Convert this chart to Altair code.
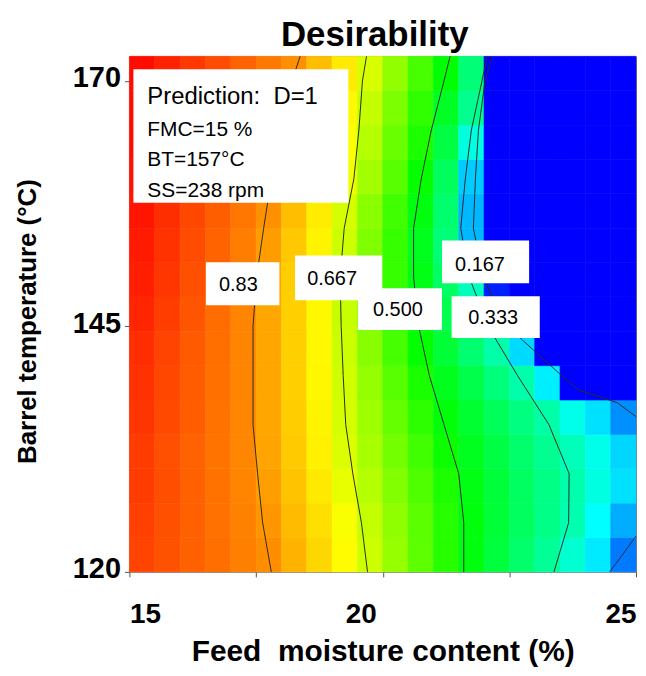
import altair as alt
import pandas as pd

FONT = "Liberation Sans, Arial, sans-serif"

# ---- heat-map grid (feed moisture %, barrel temperature °C) ----
MOISTURE_EDGES = [15.0, 15.5, 16.0, 16.5, 17.0, 17.5, 18.0, 18.5, 19.0, 19.5, 20.0,
                  20.5, 21.0, 21.5, 22.0, 22.5, 23.0, 23.5, 24.0, 24.5, 25.0]
TEMP_EDGES = [120.0, 123.5, 127.0, 130.5, 134.0, 137.5, 141.0, 144.5, 148.0,
              151.5, 155.0, 158.5, 162.0, 165.5, 169.0, 172.5]

# desirability per cell, rows from bottom (120 °C) to top (172.5 °C)
D_ROWS = [
    [0.921, 0.904, 0.886, 0.869, 0.851, 0.834, 0.791, 0.747, 0.704, 0.660, 0.618, 0.574, 0.530, 0.486, 0.441, 0.396, 0.352, 0.295, 0.230, 0.120],
    [0.925, 0.906, 0.886, 0.867, 0.848, 0.823, 0.780, 0.738, 0.695, 0.653, 0.612, 0.571, 0.529, 0.488, 0.447, 0.407, 0.369, 0.328, 0.250, 0.170],
    [0.929, 0.908, 0.887, 0.866, 0.845, 0.814, 0.770, 0.726, 0.682, 0.641, 0.602, 0.562, 0.522, 0.482, 0.444, 0.406, 0.370, 0.332, 0.280, 0.220],
    [0.929, 0.907, 0.885, 0.864, 0.842, 0.807, 0.762, 0.717, 0.672, 0.631, 0.591, 0.550, 0.509, 0.471, 0.433, 0.395, 0.358, 0.320, 0.270, 0.210],
    [0.938, 0.914, 0.890, 0.866, 0.842, 0.805, 0.759, 0.713, 0.667, 0.623, 0.580, 0.536, 0.492, 0.453, 0.413, 0.374, 0.336, 0.270, 0.220, 0.140],
    [0.942, 0.917, 0.892, 0.868, 0.843, 0.804, 0.757, 0.710, 0.663, 0.615, 0.569, 0.520, 0.473, 0.426, 0.380, 0.333, 0.234, 0.0, 0.0, 0.0],
    [0.947, 0.921, 0.894, 0.869, 0.843, 0.803, 0.756, 0.708, 0.659, 0.606, 0.555, 0.502, 0.446, 0.391, 0.335, 0.214, 0.0, 0.0, 0.0, 0.0],
    [0.956, 0.928, 0.900, 0.873, 0.845, 0.805, 0.756, 0.707, 0.656, 0.600, 0.546, 0.488, 0.423, 0.358, 0.212, 0.0, 0.0, 0.0, 0.0, 0.0],
    [0.965, 0.936, 0.906, 0.877, 0.848, 0.808, 0.758, 0.708, 0.656, 0.598, 0.542, 0.479, 0.403, 0.316, 0.030, 0.0, 0.0, 0.0, 0.0, 0.0],
    [0.970, 0.941, 0.911, 0.883, 0.853, 0.817, 0.765, 0.713, 0.660, 0.600, 0.542, 0.473, 0.384, 0.180, 0.0, 0.0, 0.0, 0.0, 0.0, 0.0],
    [0.975, 0.946, 0.917, 0.889, 0.860, 0.829, 0.775, 0.721, 0.667, 0.608, 0.550, 0.486, 0.393, 0.180, 0.0, 0.0, 0.0, 0.0, 0.0, 0.0],
    [0.981, 0.952, 0.923, 0.895, 0.866, 0.837, 0.790, 0.738, 0.687, 0.628, 0.568, 0.505, 0.409, 0.200, 0.0, 0.0, 0.0, 0.0, 0.0, 0.0],
    [0.986, 0.957, 0.929, 0.902, 0.873, 0.845, 0.803, 0.750, 0.697, 0.641, 0.582, 0.521, 0.434, 0.280, 0.0, 0.0, 0.0, 0.0, 0.0, 0.0],
    [0.986, 0.959, 0.932, 0.905, 0.878, 0.851, 0.815, 0.761, 0.708, 0.653, 0.597, 0.538, 0.464, 0.361, 0.0, 0.0, 0.0, 0.0, 0.0, 0.0],
    [0.987, 0.961, 0.935, 0.911, 0.885, 0.859, 0.833, 0.778, 0.724, 0.669, 0.614, 0.556, 0.498, 0.384, 0.0, 0.0, 0.0, 0.0, 0.0, 0.0],
]

# ---- contour lines (moisture at given temperatures) ----
CONTOUR_T = [172.5, 170, 165, 160, 155, 150, 145, 140, 135, 130, 125, 120]
CONTOUR_083_M = [18.37, 18.21, 18.00, 17.80, 17.65, 17.51, 17.44, 17.44, 17.44, 17.53, 17.63, 17.80]
CONTOUR_067_M = [19.68, 19.60, 19.53, 19.43, 19.24, 19.16, 19.18, 19.22, 19.27, 19.41, 19.58, 19.70]
CONTOUR_050_M = [21.33, 21.21, 20.96, 20.76, 20.61, 20.61, 20.71, 20.92, 21.21, 21.50, 21.60, 21.60]
CONTOUR_033_M = [22.06, 21.96, 21.75, 21.63, 21.54, 21.71, 22.08, 22.66, 23.28, 23.68, 23.67, 23.38]
CONTOUR_017A_T = [172.5, 170, 165, 160, 155, 150, 145, 143.6, 140, 138.55, 137.23, 135.81]
CONTOUR_017A_M = [22.16, 22.02, 21.89, 21.83, 21.79, 21.98, 22.47, 22.76, 23.53, 23.86, 24.63, 25.00]
CONTOUR_017B_T = [123.65, 121.72, 120.0]
CONTOUR_017B_M = [25.00, 24.73, 24.48]

# ---- contour labels ----
LABEL_TEXT = ["0.83", "0.667", "0.500", "0.167", "0.333"]
LABEL_M = [17.15, 19.00, 20.30, 21.92, 22.18]
LABEL_T = [149.19, 149.80, 146.65, 151.22, 145.84]
BOX_M0 = [16.51, 18.27, 19.51, 21.17, 21.36]
BOX_M1 = [17.96, 19.99, 21.17, 22.89, 23.10]
BOX_T0 = [147.16, 147.67, 144.63, 149.39, 143.82]
BOX_T1 = [151.52, 152.23, 148.88, 153.75, 148.07]

PRED_LINES = ["Prediction:\u00a0 D=1", "FMC=15 %", "BT=157°C", "SS=238 rpm"]

# ---- build tables ----
cells = []
for i in range(len(TEMP_EDGES) - 1):
    for j in range(len(MOISTURE_EDGES) - 1):
        cells.append({"m": MOISTURE_EDGES[j], "m_hi": MOISTURE_EDGES[j + 1],
                      "t": TEMP_EDGES[i], "t_hi": TEMP_EDGES[i + 1],
                      "D": D_ROWS[i][j]})
grid = pd.DataFrame(cells)

pts = []
for name, ms, ts in [("0.833", CONTOUR_083_M, CONTOUR_T), ("0.667", CONTOUR_067_M, CONTOUR_T),
                     ("0.500", CONTOUR_050_M, CONTOUR_T), ("0.333", CONTOUR_033_M, CONTOUR_T),
                     ("0.167a", CONTOUR_017A_M, CONTOUR_017A_T), ("0.167b", CONTOUR_017B_M, CONTOUR_017B_T)]:
    for k, (m, t) in enumerate(zip(ms, ts)):
        pts.append({"line": name, "idx": k, "m": m, "t": t})
contours = pd.DataFrame(pts)

labels = pd.DataFrame({"label": LABEL_TEXT, "m": LABEL_M, "t": LABEL_T,
                       "m0": BOX_M0, "m1": BOX_M1, "t0": BOX_T0, "t1": BOX_T1})

x_scale = alt.Scale(domain=[15, 25], nice=False, zero=False)
y_scale = alt.Scale(domain=[120, 172.5], nice=False, zero=False)
color_scale = alt.Scale(domain=[0, 0.25, 0.5, 0.70, 1],
                        range=["#0000ff", "#00ffff", "#00ff00", "#ffff00", "#ff0000"],
                        interpolate="rgb")

x_axis = alt.Axis(
    values=[15, 17.5, 20, 22.5, 25],
    labelExpr="datum.value % 5 === 0 ? format(datum.value, 'd') : ''",
    labelFlush=True, labelFont=FONT, labelFontSize=28, labelFontWeight="bold",
    labelColor="black", labelPadding=24,
    labelOffset={"condition": {"test": "datum.value === 20", "value": -22}, "value": 0},
    tickSize=5, tickColor="#555555", domain=False, grid=False,
    title="Feed\u00a0 moisture content (%)", titleFont=FONT, titleFontSize=30,
    titleFontWeight="bold", titleColor="black", titlePadding=8,
)
y_axis = alt.Axis(
    values=[120, 145, 170],
    labelFont=FONT, labelFontSize=29, labelFontWeight="bold", labelColor="black",
    labelPadding=4, labelOffset=-3, tickSize=5, tickColor="#555555",
    domain=False, grid=False,
    title="Barrel temperature (°C)", titleFont=FONT, titleFontSize=26,
    titleFontWeight="bold", titleColor="black", titlePadding=32, titleY=266,
)

heat = alt.Chart(grid).mark_rect(strokeWidth=0.6).encode(
    x=alt.X("m:Q", scale=x_scale, axis=x_axis),
    x2="m_hi:Q",
    y=alt.Y("t:Q", scale=y_scale, axis=y_axis),
    y2="t_hi:Q",
    color=alt.Color("D:Q", scale=color_scale, legend=None),
    stroke=alt.Stroke("D:Q", scale=color_scale, legend=None),
)

lines = alt.Chart(contours).mark_line(color="#2b2b2b", strokeWidth=1).encode(
    x=alt.X("m:Q"),
    y=alt.Y("t:Q"),
    detail="line:N",
    order="idx:Q",
)

boxes = alt.Chart(labels).mark_rect(fill="white").encode(
    x=alt.X("m0:Q"), x2="m1:Q",
    y=alt.Y("t0:Q"), y2="t1:Q",
)
label_text = alt.Chart(labels).mark_text(font=FONT, fontSize=20, color="black",
                                         align="center", baseline="middle").encode(
    x=alt.X("m:Q"),
    y=alt.Y("t:Q"),
    text="label:N",
)

one = pd.DataFrame({"k": [0]})
pred_box = alt.Chart(one).mark_rect(fill="white").encode(
    x=alt.value(4), x2=alt.value(220), y=alt.value(13), y2=alt.value(147))
pred_layers = []
for txt, yy, fs in zip(PRED_LINES, [48, 80, 110, 141], [24, 21, 21, 21]):
    pred_layers.append(
        alt.Chart(one).mark_text(text=txt, font=FONT, fontSize=fs, color="black",
                                 align="left", baseline="alphabetic").encode(
            x=alt.value(18), y=alt.value(yy)))

chart = alt.layer(heat, lines, boxes, label_text, pred_box, *pred_layers).properties(
    width=509, height=518,
    title=alt.TitleParams("Desirability", font=FONT, fontSize=35, fontWeight="bold",
                          color="black", anchor="middle", dx=-8, offset=1),
    padding={"left": 6, "top": 9, "right": 0, "bottom": 0},
    background="white",
).configure_view(stroke="#808080", strokeWidth=1)

chart.save("out.html", embed_options={"renderer": "svg", "actions": False})
